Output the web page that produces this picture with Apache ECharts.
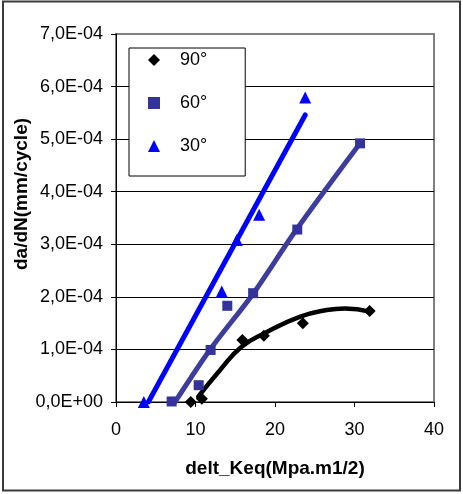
<!DOCTYPE html>
<html>
<head>
<meta charset="utf-8">
<script src="https://cdn.jsdelivr.net/npm/echarts@6/dist/echarts.min.js"></script>
<style>
html,body{margin:0;padding:0;background:#fff;}
#chart{width:463px;height:494px;}
</style>
</head>
<body>
<div id="chart"></div>
<script>
// ---- data ----
var seriesNames = ['90°', '60°', '30°'];
var xTitle = 'delt_Keq(Mpa.m1/2)';
var yTitle = 'da/dN(mm/cycle)';
var xTicks = [0, 10, 20, 30, 40];
var yTicks = [0, 1e-4, 2e-4, 3e-4, 4e-4, 5e-4, 6e-4, 7e-4];

// measured points [deltaK, da/dN]
var pts90 = [[9.4, 0], [10.8, 0.06e-4], [15.9, 1.18e-4], [18.6, 1.26e-4], [23.5, 1.50e-4], [31.9, 1.73e-4]];
var pts60 = [[7.0, 0.01e-4], [10.4, 0.32e-4], [11.9, 0.99e-4], [14.0, 1.83e-4], [17.25, 2.07e-4], [22.8, 3.28e-4], [30.7, 4.92e-4]];
var pts30 = [[3.5, 0], [13.3, 2.10e-4], [15.2, 3.08e-4], [18.0, 3.56e-4], [23.8, 5.79e-4]];

// trend curves
var trend90 = [[10.35, 0.10e-4], [13.1, 0.61e-4], [15.8, 1.05e-4], [18.7, 1.31e-4], [23.1, 1.62e-4], [26.5, 1.75e-4], [28.8, 1.78e-4], [31.9, 1.72e-4]];
var trend60 = [[7.42, 0], [11.8, 0.99e-4], [17.3, 2.07e-4], [22.7, 3.28e-4], [30.7, 4.92e-4]];
var trend30 = [[4.07, 0], [23.8, 5.46e-4]];

var colors = ['#000000', '#333399', '#0000ff'];
var trendColors = ['#000000', '#3d3d9e', '#0000ff'];

var chart = echarts.init(document.getElementById('chart'), null, {renderer: 'canvas'});
var FONT = '"Liberation Sans", Arial, sans-serif';

function yFmt(v) {
  if (Math.abs(v) < 1e-12) return '0,0E+00';
  return (v * 1e4).toFixed(1).replace('.', ',') + 'E-04';
}

var option = {
  animation: false,
  backgroundColor: '#ffffff',
  grid: {left: 116, right: 29, top: 34, bottom: 92, show: true, borderColor: '#808080', borderWidth: 2, backgroundColor: 'transparent'},
  legend: {
    data: seriesNames,
    orient: 'vertical',
    left: 129, top: 48,
    padding: [3, 38, 21, 19],
    itemWidth: 12, itemHeight: 12, itemGap: 25,
    symbolKeepAspect: true,
    backgroundColor: '#ffffff',
    borderColor: '#000000', borderWidth: 1,
    textStyle: {fontFamily: FONT, fontSize: 18, color: '#000', padding: [0, 0, 0, 15]}
  },
  xAxis: {
    type: 'value', min: xTicks[0], max: xTicks[xTicks.length - 1], interval: 10,
    axisLine: {show: true, onZero: false, lineStyle: {color: '#000', width: 1}},
    axisTick: {show: true, inside: false, length: 5, lineStyle: {color: '#000'}},
    axisLabel: {fontFamily: FONT, fontSize: 18, color: '#000', margin: 19},
    splitLine: {show: false}
  },
  yAxis: {
    type: 'value', min: yTicks[0], max: yTicks[yTicks.length - 1], interval: 1e-4,
    axisLine: {show: true, onZero: false, lineStyle: {color: '#000', width: 1}},
    axisTick: {show: true, inside: false, length: 5, lineStyle: {color: '#000'}},
    axisLabel: {fontFamily: FONT, fontSize: 18, color: '#000', margin: 13, formatter: yFmt},
    splitLine: {show: true, showMaxLine: false, lineStyle: {color: '#000', width: 1}}
  },
  graphic: [
    {type: 'rect', shape: {x: 3, y: 1.5, width: 457, height: 489}, style: {fill: 'none', stroke: '#3a3a3a', lineWidth: 2}, silent: true},
    {type: 'text', x: 275, y: 469, style: {text: xTitle, font: 'bold 19px ' + FONT, fill: '#000', align: 'center', verticalAlign: 'middle'}},
    {type: 'text', x: 22, y: 194, rotation: Math.PI / 2, style: {text: yTitle, font: 'bold 19px ' + FONT, fill: '#000', align: 'center', verticalAlign: 'middle'}}
  ],
  series: [
    {name: 'trend 90', type: 'line', data: trend90, smooth: true, showSymbol: false, symbol: 'none', z: 2,
     lineStyle: {color: trendColors[0], width: 4.5, cap: 'round'}, itemStyle: {color: trendColors[0]}},
    {name: 'trend 60', type: 'line', data: trend60, smooth: 0.3, showSymbol: false, symbol: 'none', z: 2,
     lineStyle: {color: trendColors[1], width: 5, cap: 'round'}, itemStyle: {color: trendColors[1]}},
    {name: 'trend 30', type: 'line', data: trend30, smooth: false, showSymbol: false, symbol: 'none', z: 2,
     lineStyle: {color: trendColors[2], width: 5, cap: 'round'}, itemStyle: {color: trendColors[2]}},
    {name: seriesNames[0], type: 'scatter', data: pts90, symbol: 'diamond', symbolSize: 12, z: 3, itemStyle: {color: colors[0], opacity: 1}},
    {name: seriesNames[1], type: 'scatter', data: pts60, symbol: 'rect', symbolSize: 10, z: 3, itemStyle: {color: colors[1], opacity: 1}},
    {name: seriesNames[2], type: 'scatter', data: pts30, symbol: 'triangle', symbolSize: 12, z: 3, itemStyle: {color: colors[2], opacity: 1}}
  ]
};
chart.setOption(option);
</script>
</body>
</html>
